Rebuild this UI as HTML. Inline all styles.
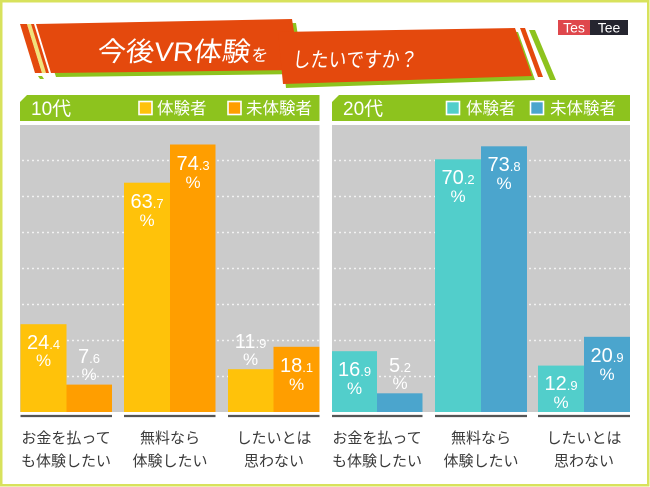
<!DOCTYPE html>
<html><head><meta charset="utf-8">
<style>
html,body{margin:0;padding:0;background:#fff;}
svg{display:block;}
text{font-family:"Liberation Sans","Noto Sans CJK JP",sans-serif;}
</style></head>
<body>
<svg width="650" height="487" viewBox="0 0 650 487" xmlns="http://www.w3.org/2000/svg">
<rect x="0" y="0" width="650" height="487" fill="#ffffff"/>
<rect x="1.25" y="1.25" width="647" height="484" fill="none" stroke="#d8e25c" stroke-width="2.5"/>

<!-- Title banner part 1 -->
<polygon points="40,28 296,23 304,74 56,77" fill="#8dc31e"/>
<polygon points="20,24 27,24 42,73 35,73" fill="#e4490d"/>
<polygon points="27,24 31,24 46,73 42,73" fill="#f1e27a"/>
<polygon points="31,24 34,24 49,73 46,73" fill="#e4490d"/>
<polygon points="38,76 42,76 44,79 40,79" fill="#8dc31e"/>
<polygon points="36,24 292,19 300,70 51,73" fill="#e4490d"/>
<!-- part 2 -->
<polygon points="281,36 518,32 535,80 286,88" fill="#8dc31e"/>
<polygon points="529,30 535,30 556,80 550,80" fill="#8dc31e"/>
<polygon points="520,28 525,28 543,77 538,77" fill="#e4490d"/>
<polygon points="278,32 515,28 532,76 283,84" fill="#e4490d"/>

<g transform="translate(0,0)">
<text x="97" y="61" font-size="27" fill="#ffffff" textLength="153" lengthAdjust="spacingAndGlyphs" transform="skewX(-6) translate(6,0)">今後VR体験</text>
<text x="251" y="61" font-size="17" fill="#ffffff" transform="skewX(-6) translate(6,0)">を</text>
<text x="292" y="67" font-size="21" fill="#ffffff" textLength="125" lengthAdjust="spacingAndGlyphs" transform="skewX(-6) translate(7,0)">したいですか？</text>
</g>

<!-- TesTee logo -->
<rect x="558" y="20" width="32" height="15" fill="#df474c"/>
<rect x="590" y="20" width="38" height="15" fill="#25252f"/>
<text x="574" y="32.5" font-size="14" fill="#ffffff" text-anchor="middle">Tes</text>
<text x="609" y="32.5" font-size="14" fill="#ffffff" text-anchor="middle">Tee</text>

<!-- Headers -->
<polygon points="27,95 319.5,95 319.5,121 20,121 20,102" fill="#8dc31e"/>
<polygon points="339,95 630,95 630,121 332,121 332,102" fill="#8dc31e"/>
<text x="31" y="115" font-size="19" fill="#ffffff">10代</text>
<rect x="139" y="101.5" width="13" height="13" fill="#ffc20a" stroke="#ffffff" stroke-width="1.6"/>
<text x="157" y="114" font-size="16.5" fill="#ffffff">体験者</text>
<rect x="228" y="101.5" width="13" height="13" fill="#ff9e00" stroke="#ffffff" stroke-width="1.6"/>
<text x="246" y="114" font-size="16.5" fill="#ffffff">未体験者</text>

<text x="343" y="115" font-size="19" fill="#ffffff">20代</text>
<rect x="446.5" y="101.5" width="13" height="13" fill="#52cecb" stroke="#ffffff" stroke-width="1.6"/>
<text x="466" y="114" font-size="16.5" fill="#ffffff">体験者</text>
<rect x="530.5" y="101.5" width="13" height="13" fill="#4ba5cd" stroke="#ffffff" stroke-width="1.6"/>
<text x="550" y="114" font-size="16.5" fill="#ffffff">未体験者</text>

<!-- Gray panels -->
<rect x="20" y="125" width="299.5" height="287" fill="#cbcbcb"/>
<rect x="332" y="125" width="298" height="287" fill="#cbcbcb"/>

<!-- grid lines -->
<g stroke="#f2f2f2" stroke-width="1.6" stroke-dasharray="2 3">
<line x1="22" y1="160.5" x2="319" y2="160.5"/>
<line x1="22" y1="196.5" x2="319" y2="196.5"/>
<line x1="22" y1="232.5" x2="319" y2="232.5"/>
<line x1="22" y1="268.5" x2="319" y2="268.5"/>
<line x1="22" y1="304.5" x2="319" y2="304.5"/>
<line x1="22" y1="340.5" x2="319" y2="340.5"/>
<line x1="22" y1="376.5" x2="319" y2="376.5"/>
<line x1="334" y1="160.5" x2="630" y2="160.5"/>
<line x1="334" y1="196.5" x2="630" y2="196.5"/>
<line x1="334" y1="232.5" x2="630" y2="232.5"/>
<line x1="334" y1="268.5" x2="630" y2="268.5"/>
<line x1="334" y1="304.5" x2="630" y2="304.5"/>
<line x1="334" y1="340.5" x2="630" y2="340.5"/>
<line x1="334" y1="376.5" x2="630" y2="376.5"/>
</g>

<!-- Bars left -->
<rect x="20.5" y="324.2" width="46" height="87.8" fill="#ffc20a"/>
<rect x="66.5" y="384.6" width="45.5" height="27.4" fill="#ff9e00"/>
<rect x="124" y="182.7" width="46" height="229.3" fill="#ffc20a"/>
<rect x="170" y="144.5" width="45.5" height="267.5" fill="#ff9e00"/>
<rect x="228" y="369.2" width="45.5" height="42.8" fill="#ffc20a"/>
<rect x="273.5" y="346.8" width="46" height="65.2" fill="#ff9e00"/>
<!-- Bars right -->
<rect x="332" y="351.2" width="45" height="60.8" fill="#52cecb"/>
<rect x="377" y="393.3" width="45.5" height="18.7" fill="#4ba5cd"/>
<rect x="435" y="159.3" width="46" height="252.7" fill="#52cecb"/>
<rect x="481" y="146.3" width="46" height="265.7" fill="#4ba5cd"/>
<rect x="538" y="365.6" width="46" height="46.4" fill="#52cecb"/>
<rect x="584" y="336.8" width="46" height="75.2" fill="#4ba5cd"/>

<!-- Value labels -->
<g fill="#ffffff" text-anchor="middle">
<text x="43.5" y="349" font-size="20">24<tspan font-size="13">.4</tspan></text>
<text x="43.5" y="366" font-size="17">%</text>
<text x="89" y="363" font-size="20">7<tspan font-size="13">.6</tspan></text>
<text x="89" y="380" font-size="17">%</text>
<text x="147" y="208" font-size="20">63<tspan font-size="13">.7</tspan></text>
<text x="147" y="226" font-size="17">%</text>
<text x="193" y="170" font-size="20">74<tspan font-size="13">.3</tspan></text>
<text x="193" y="188" font-size="17">%</text>
<text x="250.5" y="348" font-size="20">11<tspan font-size="13">.9</tspan></text>
<text x="250.5" y="365" font-size="17">%</text>
<text x="296.5" y="372" font-size="20">18<tspan font-size="13">.1</tspan></text>
<text x="296.5" y="390" font-size="17">%</text>

<text x="354.5" y="376" font-size="20">16<tspan font-size="13">.9</tspan></text>
<text x="354.5" y="394" font-size="17">%</text>
<text x="400" y="372" font-size="20">5<tspan font-size="13">.2</tspan></text>
<text x="400" y="389" font-size="17">%</text>
<text x="458" y="184" font-size="20">70<tspan font-size="13">.2</tspan></text>
<text x="458" y="202" font-size="17">%</text>
<text x="504" y="171" font-size="20">73<tspan font-size="13">.8</tspan></text>
<text x="504" y="189" font-size="17">%</text>
<text x="561" y="390" font-size="20">12<tspan font-size="13">.9</tspan></text>
<text x="561" y="408" font-size="17">%</text>
<text x="607" y="362" font-size="20">20<tspan font-size="13">.9</tspan></text>
<text x="607" y="380" font-size="17">%</text>
</g>

<!-- Baselines -->
<g stroke="#555555" stroke-width="2.2">
<line x1="20.5" y1="416" x2="112" y2="416"/>
<line x1="124" y1="416" x2="215.5" y2="416"/>
<line x1="228" y1="416" x2="319.5" y2="416"/>
<line x1="332" y1="416" x2="422.5" y2="416"/>
<line x1="435" y1="416" x2="527" y2="416"/>
<line x1="538" y1="416" x2="630" y2="416"/>
</g>

<!-- Category labels -->
<g fill="#3a3a3a" font-size="15" text-anchor="middle">
<text x="66" y="443">お金を払って</text>
<text x="66" y="466">も体験したい</text>
<text x="170" y="443">無料なら</text>
<text x="170" y="466">体験したい</text>
<text x="274" y="443">したいとは</text>
<text x="274" y="466">思わない</text>
<text x="377" y="443">お金を払って</text>
<text x="377" y="466">も体験したい</text>
<text x="481" y="443">無料なら</text>
<text x="481" y="466">体験したい</text>
<text x="584" y="443">したいとは</text>
<text x="584" y="466">思わない</text>
</g>
</svg>
</body></html>
